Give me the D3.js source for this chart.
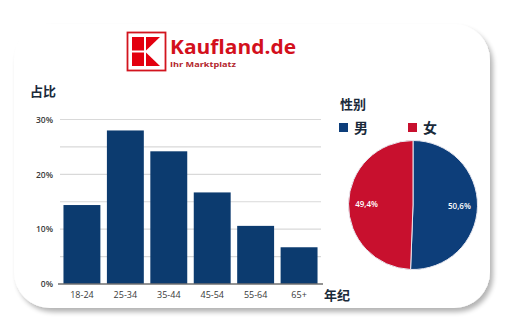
<!DOCTYPE html>
<html>
<head>
<meta charset="utf-8">
<script src="https://cdn.jsdelivr.net/npm/d3@7"></script>
<style>
  body { margin: 0; background: #fff; }
  svg { display: block; }
</style>
</head>
<body>
<div id="chart"></div>
<script>
const width = 508;
const height = 329;

// age groups and share (%)
const ageGroups = ["18-24", "25-34", "35-44", "45-54", "55-64", "65+"];
const ageShare = [14.4, 28.0, 24.2, 16.7, 10.6, 6.7];
const yTicks = [0, 10, 20, 30];

// gender split
const genders = ["男", "女"];
const genderShare = [50.6, 49.4];
const genderLabels = ["50,6%", "49,4%"];

const navy = "#0c3b6f";
const pieBlue = "#0d3e7a";
const red = "#c8102e";
const cjk = "'Noto Sans CJK SC', sans-serif";

const svg = d3.select("#chart")
  .append("svg")
  .attr("width", width)
  .attr("height", height);

// card shadow + card
const defs = svg.append("defs");
const f = defs.append("filter").attr("id", "shadow")
  .attr("x", "-10%").attr("y", "-10%").attr("width", "120%").attr("height", "120%");
f.append("feGaussianBlur").attr("in", "SourceAlpha").attr("stdDeviation", 2.5);
f.append("feOffset").attr("dx", 3).attr("dy", 4).attr("result", "b");
f.append("feComponentTransfer").append("feFuncA").attr("type", "linear").attr("slope", 0.3);
const fm = f.append("feMerge");
fm.append("feMergeNode");
fm.append("feMergeNode").attr("in", "SourceGraphic");

svg.append("rect")
  .attr("x", 14).attr("y", 24)
  .attr("width", 476).attr("height", 284)
  .attr("rx", 36)
  .attr("fill", "#fff")
  .attr("filter", "url(#shadow)");

// logo
const logo = svg.append("g").attr("transform", "translate(127,32)");
logo.append("rect")
  .attr("x", 0.5).attr("y", 0.5).attr("width", 38).attr("height", 38)
  .attr("fill", "#fff").attr("stroke", "#d2141e").attr("stroke-width", 1.8);
logo.append("rect").attr("x", 5).attr("y", 5).attr("width", 12).attr("height", 13.5).attr("fill", "#e3000f");
logo.append("rect").attr("x", 5).attr("y", 20.5).attr("width", 12).attr("height", 13.5).attr("fill", "#e3000f");
logo.append("path").attr("d", "M19,5 L33,5 L19,18.5 Z").attr("fill", "#e3000f");
logo.append("path").attr("d", "M19,20.5 L33,34 L19,34 Z").attr("fill", "#e3000f");

svg.append("text")
  .attr("x", 170).attr("y", 54)
  .attr("font-family", "'Open Sans', sans-serif")
  .attr("font-weight", 700)
  .attr("font-size", 20)
  .attr("textLength", 126)
  .attr("lengthAdjust", "spacingAndGlyphs")
  .attr("fill", "#d3101c")
  .text("Kaufland.de");

svg.append("text")
  .attr("x", 170).attr("y", 66.5)
  .attr("font-family", "'Open Sans', sans-serif")
  .attr("font-weight", 700)
  .attr("font-size", 7)
  .attr("textLength", 66)
  .attr("lengthAdjust", "spacingAndGlyphs")
  .attr("fill", "#b3262d")
  .text("Ihr Marktplatz");

// bar chart
const x = d3.scaleBand()
  .domain(ageGroups)
  .range([60, 321])
  .paddingInner(0.15)
  .paddingOuter(0.08);

const y = d3.scaleLinear()
  .domain([0, 30])
  .range([284, 119.5]);

// gridlines every 5%
svg.append("g")
  .selectAll("line")
  .data(d3.range(5, 31, 5))
  .join("line")
  .attr("x1", 60).attr("x2", 321)
  .attr("y1", d => y(d)).attr("y2", d => y(d))
  .attr("stroke", "#d9d9d9")
  .attr("stroke-width", 1.2);

svg.append("g")
  .selectAll("rect")
  .data(ageGroups)
  .join("rect")
  .attr("x", d => x(d))
  .attr("y", (d, i) => y(ageShare[i]))
  .attr("width", x.bandwidth())
  .attr("height", (d, i) => y(0) - y(ageShare[i]))
  .attr("fill", navy);

// x axis
const xAxis = svg.append("g")
  .attr("transform", `translate(0,${y(0)})`)
  .call(d3.axisBottom(x).tickSize(0).tickPadding(8));
xAxis.select(".domain").attr("stroke", "#6f6f6f").attr("stroke-width", 1.5)
  .attr("d", "M58,0H323");
xAxis.selectAll("text")
  .attr("font-family", "'Open Sans', sans-serif")
  .attr("font-size", 9)
  .attr("fill", "#3a3a3a");

// y axis
const yAxis = svg.append("g")
  .attr("transform", "translate(56,0)")
  .call(d3.axisLeft(y).tickValues(yTicks).tickSize(0).tickFormat(d => d + "%"));
yAxis.select(".domain").remove();
yAxis.selectAll("text")
  .attr("font-family", "'Open Sans', sans-serif")
  .attr("font-weight", 600)
  .attr("font-size", 8.5)
  .attr("fill", "#3a3a3a");

svg.append("text")
  .attr("x", 30).attr("y", 96)
  .attr("font-family", cjk).attr("font-weight", 700).attr("font-size", 13)
  .attr("fill", "#1a2a3a")
  .text("占比");

svg.append("text")
  .attr("x", 324).attr("y", 300)
  .attr("font-family", cjk).attr("font-weight", 700).attr("font-size", 13)
  .attr("fill", "#1a2a3a")
  .text("年纪");

// pie
const cx = 413, cy = 205, r = 64.5;
const pie = d3.pie().sort(null).value(d => d);
const arc = d3.arc().innerRadius(0).outerRadius(r);
const labelArc = d3.arc().innerRadius(r * 0.72).outerRadius(r * 0.72);
const pieColors = [pieBlue, red];

const pg = svg.append("g").attr("transform", `translate(${cx},${cy})`);
const arcs = pg.selectAll("g")
  .data(pie(genderShare))
  .join("g");

arcs.append("path")
  .attr("d", arc)
  .attr("fill", (d, i) => pieColors[i])
  .attr("stroke", "#e8e8f0")
  .attr("stroke-width", 1);

arcs.append("text")
  .attr("transform", d => `translate(${labelArc.centroid(d)})`)
  .attr("text-anchor", "middle")
  .attr("dy", "0.35em")
  .attr("font-family", "'Open Sans', sans-serif")
  .attr("font-weight", 600)
  .attr("font-size", 8)
  .attr("fill", "#fff")
  .text((d, i) => genderLabels[i]);

svg.append("text")
  .attr("x", 340).attr("y", 109)
  .attr("font-family", cjk).attr("font-weight", 700).attr("font-size", 13)
  .attr("fill", "#1a2a3a")
  .text("性别");

const legend = svg.append("g")
  .selectAll("g")
  .data(genders)
  .join("g")
  .attr("transform", (d, i) => `translate(${339 + i * 69},0)`);
legend.append("rect")
  .attr("x", 0).attr("y", 123).attr("width", 9).attr("height", 9)
  .attr("fill", (d, i) => pieColors[i]);
legend.append("text")
  .attr("x", 15).attr("y", 133)
  .attr("font-family", cjk).attr("font-weight", 700).attr("font-size", 14)
  .attr("fill", "#1a2a3a")
  .text(d => d);
</script>
</body>
</html>
